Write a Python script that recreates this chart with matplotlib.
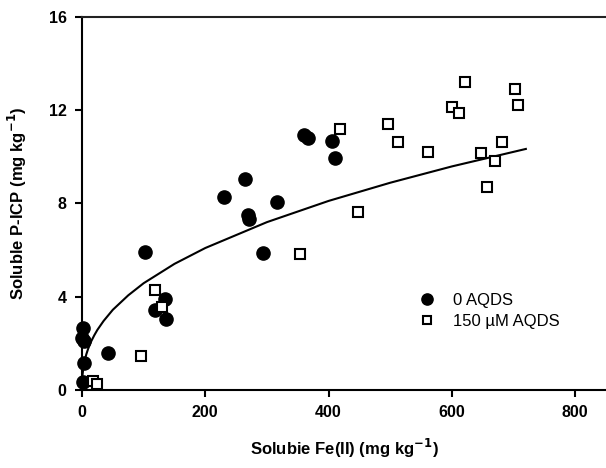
import matplotlib
matplotlib.use("Agg")
import matplotlib.pyplot as plt

plt.rcParams['font.family'] = ['Liberation Sans', 'DejaVu Sans']

# 0 AQDS (filled circles)
fe_0 = [2, 0, 3, 4, 1, 42, 103, 119, 135, 136, 230, 265, 270, 271, 294, 316, 360, 367, 406, 411]
p_0 = [2.68, 2.22, 2.08, 1.17, 0.36, 1.60, 5.92, 3.41, 3.91, 3.04, 8.27, 9.06, 7.50, 7.35, 5.88, 8.07, 10.94, 10.81, 10.69, 9.95]

# 150 uM AQDS (open squares)
fe_150 = [18, 25, 96, 118, 130, 353, 418, 448, 497, 512, 562, 600, 611, 621, 647, 657, 670, 681, 702, 707]
p_150 = [0.39, 0.24, 1.46, 4.27, 3.58, 5.82, 11.18, 7.64, 11.41, 10.64, 10.22, 12.13, 11.87, 13.22, 10.16, 8.69, 9.82, 10.62, 12.90, 12.23]

# fitted curve
fit_x = [0.2, 0.5, 1, 2, 3, 5, 7, 10, 15, 20, 25, 35, 50, 75, 100, 150, 200, 300, 400, 500, 600, 720]
fit_y = [0.35, 0.51, 0.68, 0.91, 1.07, 1.33, 1.53, 1.77, 2.09, 2.35, 2.58, 2.96, 3.44, 4.06, 4.58, 5.41, 6.09, 7.20, 8.11, 8.89, 9.59, 10.34]

xticks = [0, 200, 400, 600, 800]
yticks = [0, 4, 8, 12, 16]

fig = plt.figure(figsize=(6.06, 4.68), dpi=100)
ax = fig.add_axes([0.1353, 0.1667, 0.8647, 0.797])

ax.plot(fit_x, fit_y, color='black', lw=1.5, zorder=2)
ax.plot(fe_0, p_0, 'o', color='black', ms=9.5, mec='black', zorder=3,
        clip_on=False, label='0 AQDS')
ax.plot(fe_150, p_150, 's', mfc='white', mec='black', mew=1.5, ms=7, zorder=3,
        clip_on=False, label='150 \u00b5M AQDS')

ax.set_xlim(0, 850)
ax.set_ylim(0, 16)
ax.set_xticks(xticks)
ax.set_yticks(yticks)
for lab in ax.get_xticklabels() + ax.get_yticklabels():
    lab.set_fontweight('bold')
ax.tick_params(direction='out', length=5, width=1.5, labelsize=11.5, pad=6)

ax.spines['right'].set_visible(False)
for s in ['left', 'bottom', 'top']:
    ax.spines[s].set_linewidth(1.5)
ax.spines['top'].set_color('#222222')

ax.set_xlabel('Solubie Fe(II) (mg kg$^{\\mathbf{-1}}$)', fontsize=12, fontweight='bold', labelpad=12)
ax.set_ylabel('Soluble P-ICP (mg kg$^{\\mathbf{-1}}$)', fontsize=12, fontweight='bold', labelpad=14)

leg = ax.legend(loc='upper left', bbox_to_anchor=(0.61, 0.30), frameon=False,
                fontsize=12, handletextpad=1.0, markerscale=0.85, labelspacing=0.35,
                handlelength=1.2)

fig.savefig('out.png', dpi=100)
